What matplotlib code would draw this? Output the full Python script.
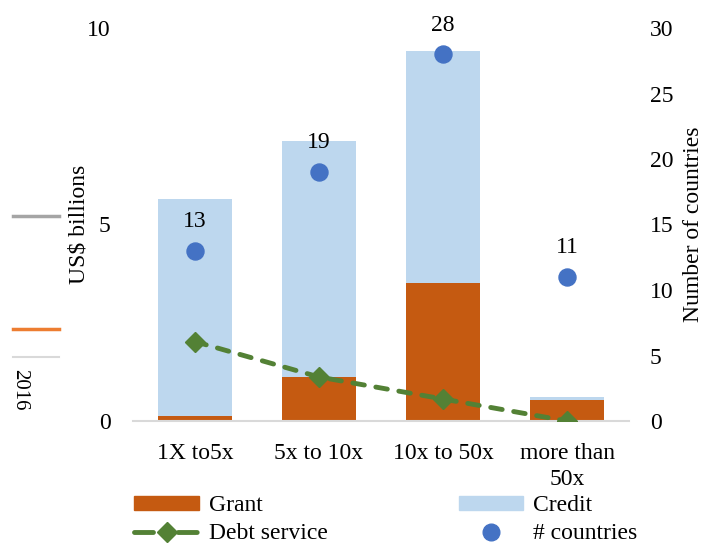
import matplotlib
matplotlib.use("Agg")
import matplotlib.pyplot as plt
import numpy as np
from matplotlib.lines import Line2D
from matplotlib.patches import Patch

plt.rcParams['font.family'] = ['Liberation Serif', 'DejaVu Serif']

categories = ["1X to5x", "5x to 10x", "10x to 50x", "more than\n50x"]
grant = [0.13, 1.11, 3.52, 0.53]
credit = [5.52, 6.01, 5.90, 0.09]
debt_service = [2.02, 1.12, 0.56, 0.0]
countries = [13, 19, 28, 11]

c_grant = "#c55a11"
c_credit = "#bdd7ee"
c_debt = "#538135"
c_countries = "#4472c4"

fs = 17

fig = plt.figure(figsize=(7.05, 5.44), dpi=100)
ax = fig.add_axes([133/705, 1-421/544, (629-133)/705, (421-28)/544])
x = np.arange(len(categories))

ax.bar(x, grant, width=0.6, color=c_grant, zorder=2)
ax.bar(x, credit, width=0.6, bottom=grant, color=c_credit, zorder=2)
ax.plot(x, debt_service, color=c_debt, lw=3.5, ls=(0, (2.4, 2.4)),
        marker='D', ms=10, zorder=4, dash_capstyle='round')

ax.set_xlim(-0.5, len(categories) - 0.5)
ax.set_ylim(0, 10)
ax.set_yticks([0, 5, 10])
ax.set_xticks(x)
ax.set_xticklabels(categories, fontsize=fs, linespacing=1.3)
ax.tick_params(axis='both', length=0, labelsize=fs)
ax.tick_params(axis='y', pad=16)
ax.tick_params(axis='x', pad=16)
for s in ['top', 'right', 'left']:
    ax.spines[s].set_visible(False)
ax.spines['bottom'].set_color('#d9d9d9')
ax.spines['bottom'].set_linewidth(1.5)
ax.set_ylabel("US$ billions", fontsize=fs, labelpad=-2)

ax2 = ax.twinx()
ax2.set_ylim(0, 30)
ax2.set_yticks(range(0, 31, 5))
ax2.tick_params(axis='y', length=0, labelsize=fs, pad=15)
for s in ax2.spines.values():
    s.set_visible(False)
ax2.scatter(x, countries, s=150, color=c_countries, zorder=5)
for xi, n in zip(x, countries):
    ax2.annotate(str(n), (xi, n), xytext=(0, 21), textcoords='offset points',
                 ha='center', va='center', fontsize=fs)
ax2.set_ylabel("Number of countries", fontsize=fs, labelpad=7)
ax2.set_zorder(ax.get_zorder() + 1)

handles = [Patch(color=c_grant),
           Line2D([], [], color=c_debt, lw=3.5, ls=(0, (3.9, 5.1)), marker='D', ms=10,
                  dash_capstyle='round'),
           Patch(color=c_credit),
           Line2D([], [], color=c_countries, lw=0, marker='o', ms=12)]
labels = ["Grant", "Debt service", "Credit", "# countries"]
fig.legend(handles, labels, loc='upper left', bbox_to_anchor=(113/705, 1-474/544),
           ncol=2, frameon=False, fontsize=fs, handlelength=2.75, handleheight=0.5,
           handletextpad=0.4, columnspacing=5.55, labelspacing=0.3)

# small leftover legend marks at the left edge
fig.add_artist(Line2D([13/705, 59/705], [1-216/544, 1-216/544], color='#a5a5a5', lw=2.5))
fig.add_artist(Line2D([13/705, 59/705], [1-329/544, 1-329/544], color='#ed7d31', lw=2.5))
fig.add_artist(Line2D([13/705, 59/705], [1-357/544, 1-357/544], color='#d9d9d9', lw=1.5))
fig.text(20/705, 1-369/544, "2016", rotation=-90, ha='center', va='top', fontsize=15)

fig.savefig("out.png", dpi=100)
